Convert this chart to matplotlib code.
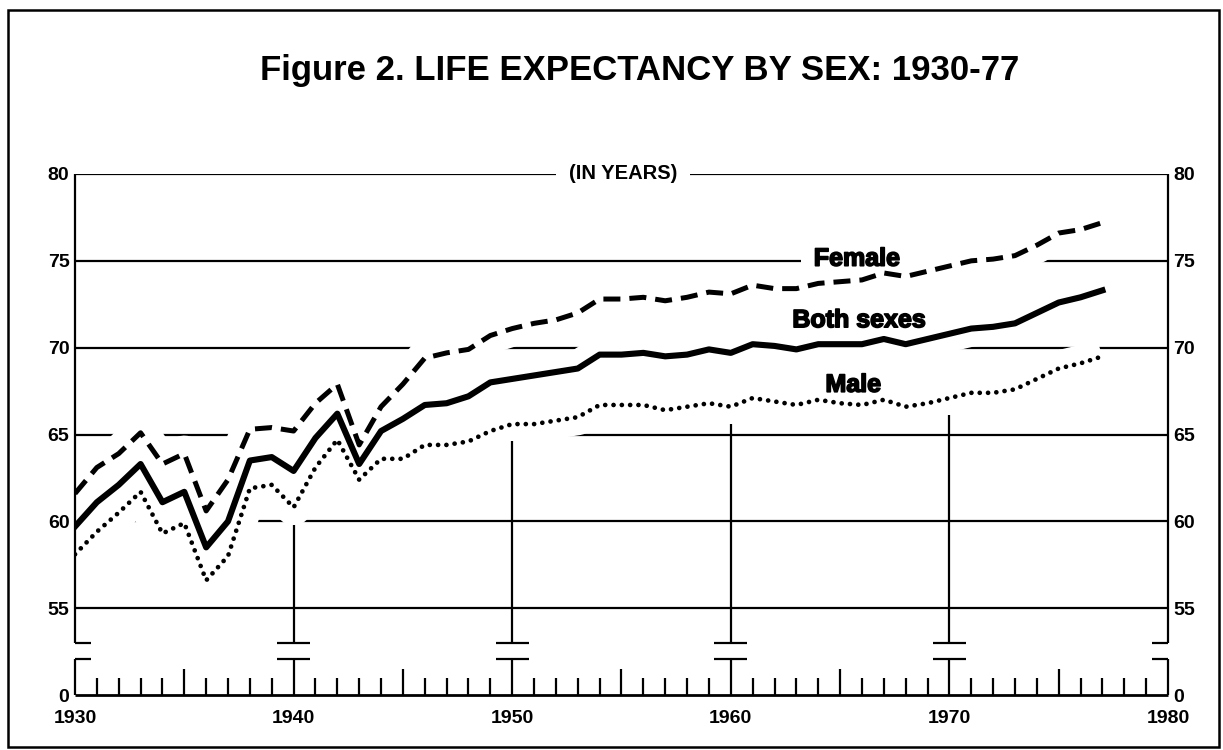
"""
life expectancy by sex, 1930-77, redrawn from the printed figure 2

"""

import matplotlib
matplotlib.use('Agg')
from matplotlib import pyplot as plt
from matplotlib.patches import Rectangle
import matplotlib.patheffects as pe
import numpy as np

plt.rcParams['font.family'] = ['Liberation Sans', 'DejaVu Sans']

years = np.arange(1930, 1978)
both = [59.7, 61.1, 62.1, 63.3, 61.1, 61.7, 58.5, 60.0, 63.5, 63.7,
        62.9, 64.8, 66.2, 63.3, 65.2, 65.9, 66.7, 66.8, 67.2, 68.0,
        68.2, 68.4, 68.6, 68.8, 69.6, 69.6, 69.7, 69.5, 69.6, 69.9,
        69.7, 70.2, 70.1, 69.9, 70.2, 70.2, 70.2, 70.5, 70.2, 70.5,
        70.8, 71.1, 71.2, 71.4, 72.0, 72.6, 72.9, 73.3]
male = [58.1, 59.4, 60.5, 61.7, 59.3, 59.9, 56.6, 58.0, 61.9, 62.1,
        60.8, 63.1, 64.7, 62.4, 63.6, 63.6, 64.4, 64.4, 64.6, 65.2,
        65.6, 65.6, 65.8, 66.0, 66.7, 66.7, 66.7, 66.4, 66.6, 66.8,
        66.6, 67.1, 66.9, 66.7, 67.0, 66.8, 66.7, 67.0, 66.6, 66.8,
        67.1, 67.4, 67.4, 67.6, 68.2, 68.8, 69.1, 69.5]
female = [61.6, 63.1, 63.9, 65.1, 63.3, 63.9, 60.6, 62.4, 65.3, 65.4,
          65.2, 66.8, 67.9, 64.4, 66.6, 67.9, 69.4, 69.7, 69.9, 70.7,
          71.1, 71.4, 71.6, 72.0, 72.8, 72.8, 72.9, 72.7, 72.9, 73.2,
          73.1, 73.6, 73.4, 73.4, 73.7, 73.8, 73.9, 74.3, 74.1, 74.4,
          74.7, 75.0, 75.1, 75.3, 75.9, 76.6, 76.8, 77.2]

y_ticks = [50, 55, 60, 65, 70, 75, 80]
y_labels = ['0', '55', '60', '65', '70', '75', '80']
x_ticks = [1930, 1940, 1950, 1960, 1970, 1980]
x_labels = ['1930', '1940', '1950', '1960', '1970', '1980']
decades = [1940, 1950, 1960, 1970]

# axis is broken between 55 and 0; "0" sits where 50 would be
break_top = 53.0
break_bot = 52.1
bar = 0.76
lw_grid = 1.6

fig = plt.figure(figsize=(12.23, 7.5), dpi=100)
ax = fig.add_axes([75/1223., 55/750., 1093/1223., 521/750.])
ax.set_xlim(1930, 1980)
ax.set_ylim(50, 80)
for s in ax.spines.values():
    s.set_visible(False)

ax.set_xticks(x_ticks)
ax.set_xticklabels(x_labels, fontweight='bold')
ax.tick_params(axis='x', length=0, pad=11, labelsize=14)
ax.set_yticks(y_ticks)
ax.set_yticklabels(y_labels, fontweight='bold')
ax.tick_params(axis='y', length=0, pad=4, labelsize=14,
               labelleft=True, labelright=True)

# horizontal rules, broken up around the curves by white halos
ax.hlines(y_ticks[1:], 1930, 1980, color='k', lw=lw_grid, zorder=1)
for s in (female, both, male):
    ax.plot(years, s, color='white', lw=26, solid_capstyle='butt',
            solid_joinstyle='round', zorder=2)

# side axes with the break marks
kw = dict(color='k', lw=lw_grid, zorder=2.5, clip_on=False)
for x0, sgn in ((1930, 1), (1980, -1)):
    ax.vlines(x0, break_top, 80, **kw)
    ax.vlines(x0, 50, break_bot, **kw)
    ax.hlines([break_top, break_bot], x0, x0 + sgn*0.75, **kw)
ax.hlines(50, 1930, 1980, color='k', lw=2.0, zorder=2.5, clip_on=False)

# decade lines start just under the male curve
male_arr = np.array(male)
dec = np.array(decades)
tops = male_arr[dec - 1930] - 1.0
ax.vlines(dec, break_top, tops, **kw)
ax.vlines(dec, 50, break_bot, **kw)
ax.hlines(np.repeat([break_top, break_bot], len(dec)),
          np.tile(dec - bar, 2), np.tile(dec + bar, 2), **kw)

# yearly ticks on the bottom
minor = np.array([y for y in range(1931, 1980) if y % 10 != 0])
heights = np.where(minor % 5 == 0, 1.5, 0.98)
ax.vlines(minor, 50, 50 + heights, **kw)

# the three series
ax.plot(years, both, color='k', lw=4.4, zorder=3)
ax.plot(years, female, color='k', lw=3.6, ls=(0, (3.4, 1.8)),
        dash_capstyle='butt', zorder=3)
ax.plot(years, male, color='k', lw=3.4, ls=(0, (0.01, 1.75)),
        dash_capstyle='round', zorder=3)

heavy = [pe.withStroke(linewidth=1.2, foreground='k')]
box = dict(facecolor='white', edgecolor='none', pad=9)
ax.text(1965.77, 74.72, 'Female', ha='center', va='baseline', fontsize=18,
        fontweight='bold', path_effects=heavy, bbox=box, zorder=2.6)
ax.text(1965.87, 71.18, 'Both sexes', ha='center', va='baseline', fontsize=18,
        fontweight='bold', path_effects=heavy, zorder=2.6)
ax.text(1965.6, 67.46, 'Male', ha='center', va='baseline', fontsize=18,
        fontweight='bold', path_effects=heavy, zorder=2.6)
ax.text(1955.07, 80, '(IN YEARS)', ha='center', va='center', fontsize=14.5,
        fontweight='bold', bbox=dict(facecolor='white', edgecolor='none', pad=9),
        zorder=2.6)

fig.text(640/1223., 1 - 80/750., 'Figure 2. LIFE EXPECTANCY BY SEX: 1930-77',
         ha='center', va='baseline', fontsize=25, fontweight='bold')

fig.add_artist(Rectangle((8/1223., 3/750.), 1211/1223., 737/750., fill=False,
                         ec='k', lw=1.8, transform=fig.transFigure))

fig.savefig('out.png', dpi=100)
